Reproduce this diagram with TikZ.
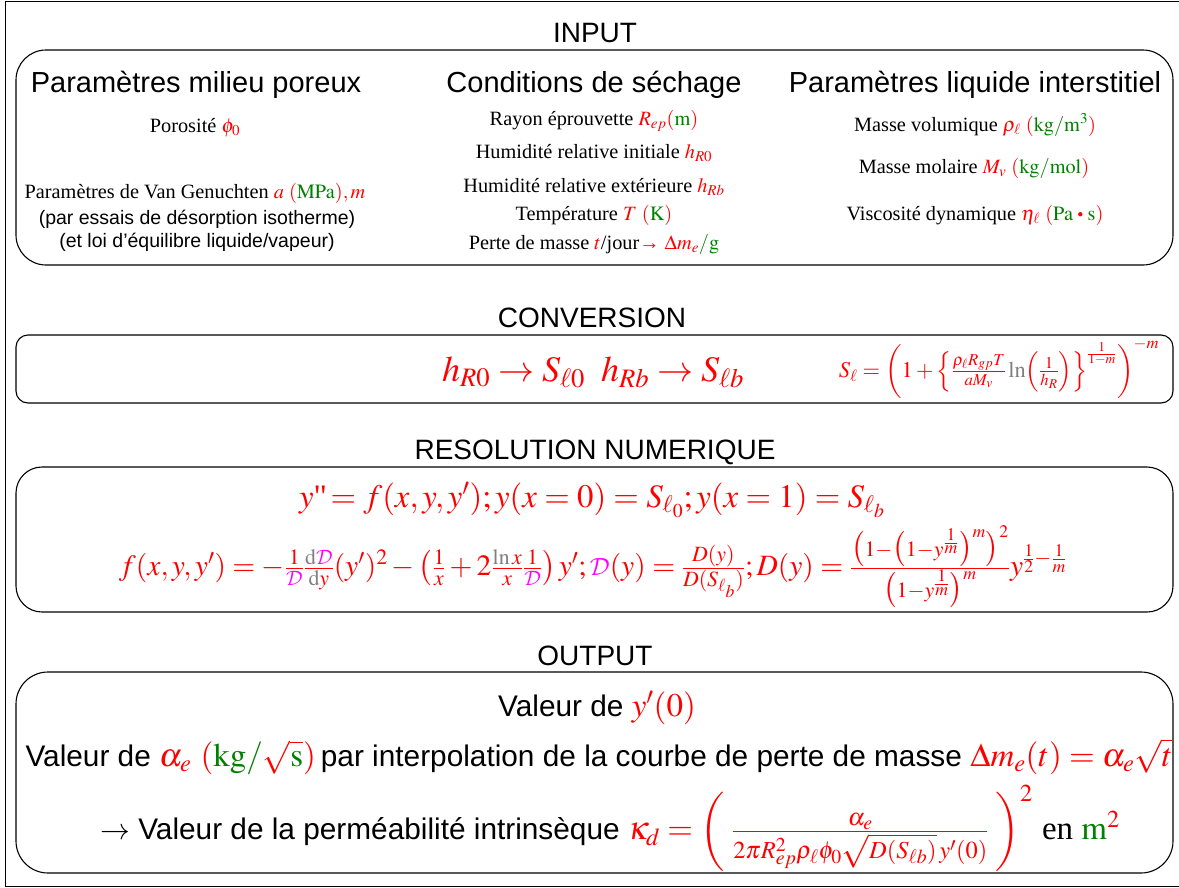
\documentclass[tikz,border=0pt]{standalone}
\usepackage{amsmath}
\usepackage{mathptmx}
\usepackage[no-math]{fontspec}
\setmainfont{Liberation Serif}
\setsansfont{Liberation Sans}
\DeclareMathAlphabet{\mathcmcal}{OMS}{cmsy}{m}{n}
\definecolor{cred}{RGB}{255,0,0}
\definecolor{cgreen}{RGB}{0,128,0}
\definecolor{cmag}{RGB}{255,0,255}
\definecolor{cgray}{RGB}{128,128,128}
\newcommand\Rd[1]{\textcolor{cred}{#1}}
\newcommand\Gn[1]{\textcolor{cgreen}{#1}}
\newcommand\Mg[1]{\textcolor{cmag}{#1}}
\newcommand\Gy[1]{\textcolor{cgray}{#1}}
\newcommand\Dc{\Mg{\mathcmcal{D}}}
\newcommand\smbul{\mathbin{\vcenter{\hbox{\scalebox{0.55}{$\bullet$}}}}}
\tikzset{
  box/.style={draw=black, line width=1.1pt},
  ttl/.style={font=\sffamily\fontsize{28}{32}\selectfont, inner sep=0pt},
  hd/.style={font=\sffamily\fontsize{29}{33}\selectfont, inner sep=0pt},
  tx/.style={font=\rmfamily\fontsize{20.3}{23}\selectfont, inner sep=0pt},
  captxt/.style={font=\sffamily\fontsize{19.5}{22}\selectfont, inner sep=0pt},
  outl/.style={font=\sffamily\fontsize{29.8}{33}\selectfont, inner sep=0pt},
}
\begin{document}
\begin{tikzpicture}[x=1pt,y=-1pt]
\useasboundingbox (0,0) rectangle (1179,887);
\draw[line width=1pt] (1179,1) -- (5,1) -- (5,886) -- (1179,886);
% boxes
\draw[box, rounded corners=30] (16,50) rectangle (1173,265);
\draw[box, rounded corners=12] (16,335) rectangle (1173,403);
\draw[box, rounded corners=26] (16,467) rectangle (1173,612);
\draw[box, rounded corners=32] (16,672) rectangle (1173,873);
% titles
\node[ttl] (tin) at (595,33) {INPUT};
\node[ttl] (tconv) at (592,318) {CONVERSION};
\node[ttl] (tres) at (595,452) {RESOLUTION NUMERIQUE};
\node[ttl] (tout) at (595,656) {OUTPUT};
% input headings
\node[hd] (h1) at (196,85) {Paramètres milieu poreux};
\node[hd] (h2) at (594,85) {Conditions de séchage};
\node[hd] (h3) at (975,85) {Paramètres liquide interstitiel};
% left column
\node[tx] (p1) at (195,128) {Porosité $\Rd{\phi_0}$};
\node[tx] (p2) at (195,193) {Paramètres de Van Genuchten $\Rd{a}$ $\Rd{(}\Gn{\mathrm{MPa}}\Rd{),m}$};
\node[captxt] (p3) at (197,219) {(par essais de désorption isotherme)};
\node[captxt] (p4) at (197,242) {(et loi d’équilibre liquide/vapeur)};
% middle column
\node[tx] (c1) at (594,121) {Rayon éprouvette $\Rd{R_{ep}}\Rd{(}\Gn{\mathrm{m}}\Rd{)}$};
\node[tx] (c2) at (594,153) {Humidité relative initiale $\Rd{h_{R0}}$};
\node[tx] (c3) at (594,187) {Humidité relative extérieure $\Rd{h_{Rb}}$};
\node[tx] (c4) at (594,215) {Température $\Rd{T}$ $\Rd{(}\Gn{\mathrm{K}}\Rd{)}$};
\node[tx] (c5) at (594,244) {Perte de masse $\Rd{t}$/jour\Rd{→} $\Rd{\Delta m_e}\Gn{/\mathrm{g}}$};
% right column
\node[tx] (r1) at (975,125) {Masse volumique $\Rd{\rho_\ell}$ $\Rd{(}\Gn{\mathrm{kg}/\mathrm{m}^3}\Rd{)}$};
\node[tx] (r2) at (974,168) {Masse molaire $\Rd{M_v}$ $\Rd{(}\Gn{\mathrm{kg}/\mathrm{mol}}\Rd{)}$};
\node[tx] (r3) at (975,215) {Viscosité dynamique $\Rd{\eta_\ell}$ $\Rd{(}\Gn{\mathrm{Pa}}\Rd{\;\smbul\;}\Gn{\mathrm{s}}\Rd{)}$};
% conversion
\node[inner sep=0pt, font=\fontsize{36}{40}\selectfont, text=cred] (cv1) at (593,372)
  {$h_{R0}\rightarrow S_{\ell 0}\;\;h_{Rb}\rightarrow S_{\ell b}$};
\node[inner sep=0pt, font=\fontsize{22.5}{26}\selectfont, text=cred] (cv2) at (999,369)
  {$S_\ell=\left(1+\left\{\frac{\rho_\ell R_{gp}T}{aM_v}\,\Gy{\mathrm{ln}}\!\left(\frac{1}{h_R}\right)\right\}^{\frac{1}{1-m}}\right)^{-m}$};
% resolution
\node[inner sep=0pt, font=\fontsize{32.8}{36}\selectfont, text=cred] (rs1) at (592,500)
  {$y\text{\textquotedbl}\!=f(x,y,y');y(x=0)=S_{\ell_0};y(x=1)=S_{\ell_b}$};
\node[inner sep=0pt, font=\fontsize{29.5}{32}\selectfont, text=cred] (rs2) at (593,567)
  {$f(x,y,y')=-\frac{1}{\Dc}\frac{\Gy{\mathrm{d}}\Dc}{\Gy{\mathrm{d}}y}(y')^2-\left(\frac{1}{x}+2\frac{\Gy{\mathrm{ln}}\,x}{x}\frac{1}{\Dc}\right)y';\Dc(y)=\frac{D(y)}{D(S_{\ell_b})};D(y)=\frac{\bigl(1-\bigl(1-y^{\frac{1}{m}}\bigr)^m\bigr)^2}{\bigl(1-y^{\frac{1}{m}}\bigr)^m}y^{\frac12-\frac1m}$};
% output
\node[outl] (o1) at (597,708) {Valeur de \fontsize{33}{36}\selectfont$\Rd{y'(0)}$};
\node[outl] (o2) at (599,757) {Valeur de {\fontsize{33}{36}\selectfont$\Rd{\alpha_e}$ $\Rd{(}\Gn{\mathrm{kg}/}\Rd{\sqrt{\Gn{\mathrm{s}}}}\Rd{)}$}\,par interpolation de la courbe de perte de masse {\fontsize{33}{36}\selectfont$\Rd{\Delta m_e(t)=\alpha_e\sqrt{t}}$}};
\node[outl] (o3) at (610,828) {$\rightarrow$ Valeur de la perméabilité intrinsèque {\fontsize{33}{36}\selectfont$\Rd{\kappa_d=\left(\vphantom{\frac{\alpha_e}{2\pi\sqrt{D}}}\;\frac{\alpha_e}{2\pi R_{ep}^2\rho_\ell\phi_0\sqrt{D(S_{\ell b})}\,y'(0)}\;\right)^2}$ \rmfamily en $\Gn{\mathrm{m}}\Rd{^2}$}};
\end{tikzpicture}
\end{document}
